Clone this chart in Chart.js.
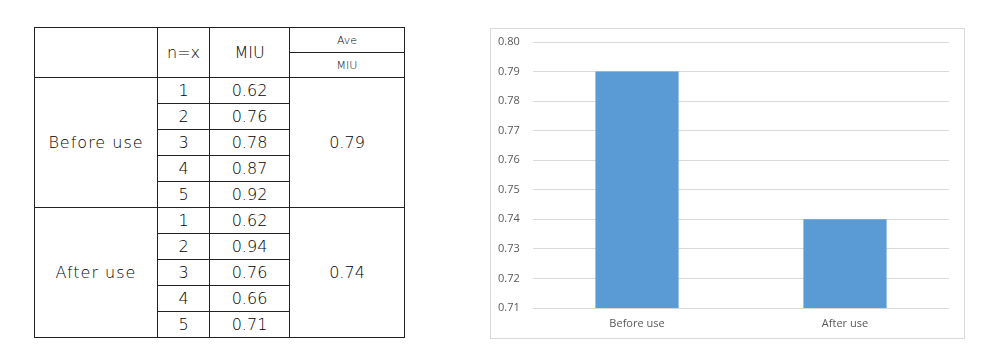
<!DOCTYPE html>
<html>
<head>
<meta charset="utf-8">
<script src="https://cdn.jsdelivr.net/npm/chart.js@4/dist/chart.umd.min.js"></script>
<style>
  html, body { margin: 0; padding: 0; background: #ffffff; }
  body { width: 1000px; height: 357px; position: relative; overflow: hidden; }
  #tbl { position: absolute; left: 34px; top: 27px; border-collapse: collapse;
         font-family: "DejaVu Sans", sans-serif; font-weight: 200; color: #000; table-layout: fixed; }
  #tbl td { border: 1px solid #222; padding: 0; text-align: center; vertical-align: middle;
            font-size: 16px; line-height: 1; }
  #tbl td.small { font-size: 11px; }
  #tbl td.grp { letter-spacing: 1px; }
  #box { position: absolute; left: 490px; top: 28px; width: 473px; height: 309px;
         border: 1px solid #d9d9d9; }
  #c { display: block; }
</style>
</head>
<body>
<table id="tbl"></table>
<div id="box"><canvas id="c" width="473" height="309"></canvas></div>
<script>
// ---- data ----
const groups = ["Before use", "After use"];
const sampleIds = ["1", "2", "3", "4", "5"];
const beforeMIU = [0.62, 0.76, 0.78, 0.87, 0.92];
const afterMIU = [0.62, 0.94, 0.76, 0.66, 0.71];
const aveMIU = [0.79, 0.74];
const yTicks = [0.71, 0.72, 0.73, 0.74, 0.75, 0.76, 0.77, 0.78, 0.79, 0.80];

// ---- table ----
const colW = [123, 52, 80, 115];
const tbl = document.getElementById('tbl');
const cg = document.createElement('colgroup');
colW.forEach(w => { const c = document.createElement('col'); c.style.width = w + 'px'; cg.appendChild(c); });
tbl.appendChild(cg);
function row(h) { const r = tbl.insertRow(); r.style.height = h + 'px'; return r; }
function cell(r, txt, opts) {
  const c = r.insertCell(); c.textContent = txt;
  if (opts) { if (opts.rs) c.rowSpan = opts.rs; if (opts.cls) c.className = opts.cls; }
  return c;
}
let r = row(25);
cell(r, "", {rs: 2}); cell(r, "n=x", {rs: 2}); cell(r, "MIU", {rs: 2}); cell(r, "Ave", {cls: 'small'});
r = row(25);
cell(r, "MIU", {cls: 'small'});
const series = [beforeMIU, afterMIU];
groups.forEach((g, gi) => {
  sampleIds.forEach((id, i) => {
    const rr = row(26);
    if (i === 0) cell(rr, g, {rs: sampleIds.length, cls: 'grp'});
    cell(rr, id);
    cell(rr, series[gi][i].toFixed(2));
    if (i === 0) cell(rr, aveMIU[gi].toFixed(2), {rs: sampleIds.length});
  });
});

// ---- chart ----
const font = { family: "'Open Sans', 'Liberation Sans', sans-serif", size: 11 };
new Chart(document.getElementById('c'), {
  type: 'bar',
  data: {
    labels: groups,
    datasets: [{ data: aveMIU, backgroundColor: '#5b9bd5', borderWidth: 0,
                 categoryPercentage: 1.0, barPercentage: 0.4 }]
  },
  options: {
    responsive: false, animation: false,
    plugins: { legend: { display: false }, tooltip: { enabled: false } },
    layout: { padding: { left: 7, right: 15, top: 13, bottom: 0 } },
    scales: {
      x: {
        grid: { display: false, drawTicks: false },
        border: { display: false },
        ticks: { color: '#595959', font: font, padding: 9, maxRotation: 0 },
        afterFit: s => { s.height = 30; }
      },
      y: {
        min: yTicks[0], max: yTicks[yTicks.length - 1],
        afterBuildTicks: s => { s.ticks = yTicks.map(v => ({ value: v })); },
        grid: { color: '#d9d9d9', drawTicks: false, lineWidth: 1 },
        border: { display: false },
        ticks: { color: '#595959', font: font, padding: 0, crossAlign: 'far',
                 callback: v => Number(v).toFixed(2) },
        afterFit: s => { s.width = 35; }
      }
    }
  }
});
</script>
</body>
</html>
